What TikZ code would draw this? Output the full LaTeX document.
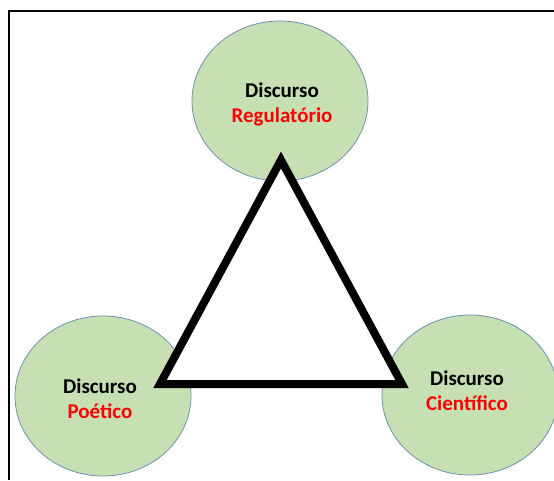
\documentclass[tikz,border=0pt]{standalone}
\usepackage{fontspec}
\setmainfont{Carlito}
\usetikzlibrary{shapes.geometric}
\definecolor{discfill}{HTML}{C6E0B4}
\definecolor{discline}{HTML}{6F8FAF}
\definecolor{discred}{HTML}{FF0000}
\begin{document}
\begin{tikzpicture}[x=1pt,y=-1pt,
	disc/.style={ellipse,draw=discline,line width=0.8pt,fill=discfill,
		minimum width=176pt,minimum height=160pt},
	disctxt/.style={align=center,font=\fontsize{21}{25}\selectfont\bfseries},
	frame/.style={line width=2pt,black},
	tri/.style={line width=8pt,black,fill=white,line join=miter}]
		\useasboundingbox (0,0) rectangle (554,480);
		\draw[frame] (554,11) -- (9,11) -- (9,480);
		\node[disc] (reg) at (280,101) {};
		\node[disc] (poe) at (103,396) {};
		\node[disc] (cie) at (470,395) {};
		\node[disctxt] (regtxt) at (282,104) {Discurso\\\textcolor{discred}{Regulatório}};
		\node[disctxt] (poetxt) at (100,399) {Discurso\\\textcolor{discred}{Poético}};
		\node[disctxt] (cietxt) at (467,391) {Discurso\\\textcolor{discred}{Científico}};
		\coordinate (top) at (281,160);
		\coordinate (left) at (160,384);
		\coordinate (right) at (402,384);
		\draw[tri] (top) -- (right) -- (left) -- cycle;
	%
	\end{tikzpicture}
\end{document}
